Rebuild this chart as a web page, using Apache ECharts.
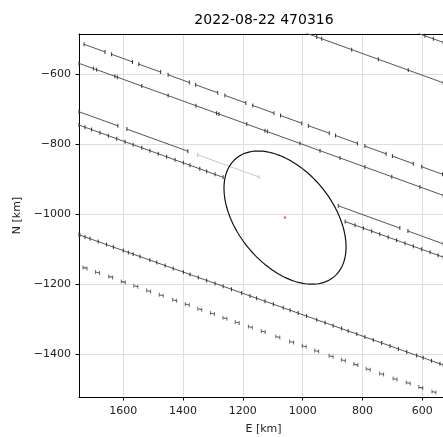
<!DOCTYPE html>
<html>
<head>
<meta charset="utf-8">
<script src="https://cdn.jsdelivr.net/npm/echarts@6/dist/echarts.min.js"></script>
<style>
  html, body { margin: 0; padding: 0; background: #fff; }
  #chart { width: 443px; height: 437px; }
</style>
</head>
<body>
<div id="chart"></div>
<script>
// chords [E, N] in km
const chordA = [[1000, -478.8], [953, -493.3], [936.5, -498.5], [836, -529.6], [747, -557.1], [647, -588.1], [530, -624.3]];
const chordA2 = [[615, -482.6], [591, -490.2], [563, -498.8], [530, -509]];
const chordB = [
  [[1731, -514.4], [1661, -536.1]],
  [[1639, -542.9], [1569, -564.6]],
  [[1548, -571.1], [1475, -593.7]],
  [[1450, -601.4], [1379, -623.4]],
  [[1358, -629.9], [1284, -652.8]],
  [[1260, -660.2], [1190, -681.9]],
  [[1167, -689], [1096, -711]],
  [[1074, -717.8], [1003, -739.8]],
  [[981, -746.6], [911, -768.2]],
  [[890, -774.7], [817, -797.3]],
  [[792, -805], [721, -827]],
  [[700, -833.5], [630, -855.2]],
  [[602, -863.8], [532, -885.5]]
];
const chordC = [[1748, -569], [1700, -583.5], [1689, -586.9], [1628, -605.7], [1620, -608.2], [1538, -633.6],
  [1450, -660.8], [1357, -689.6], [1288, -711], [1280, -713.4], [1187, -742.2], [1126, -761.1], [1118, -763.6],
  [1009, -797.3], [942, -818.1], [875, -838.8], [792, -864.5], [702, -892.3], [608, -921.4], [530, -945.6]];
const chordD = [
  [[1748, -706.9], [1618, -747.1]],
  [[1588, -756.4], [1384, -819.5]],
  [[881, -975.3], [675, -1039.0]],
  [[648, -1047.4], [530, -1083.9]]
];
const chordDGray = [[1351, -829.8], [1146, -893.2]];
const chordE1 = [[1748, -744.8], [1728, -751.0], [1706, -757.8], [1678, -766.5], [1650, -775.1], [1622, -783.8],
  [1594, -792.5], [1567, -800.8], [1538, -809.8], [1511, -818.2], [1483, -826.8], [1455, -835.5], [1427, -844.2],
  [1399, -852.8], [1377, -859.6], [1344, -869.8], [1321, -877.0], [1293, -885.6], [1266, -894.0]];
const chordE2 = [[858, -1020.1], [825, -1030.5], [797, -1039.1], [769, -1047.8], [742, -1056.2], [714, -1064.8],
  [686, -1073.5], [658, -1082.2], [630, -1090.8], [602, -1099.5], [574, -1108.2], [547, -1116.5], [530, -1121.8]];
const chordF = [[1748, -1058], [1745, -1058.9], [1728, -1064.1], [1711, -1069.3], [1684, -1077.5], [1656, -1086.1],
  [1633, -1093.1], [1600, -1103.1], [1583, -1108.3], [1567, -1113.2], [1544, -1120.2], [1511, -1130.3],
  [1488, -1137.3], [1460, -1145.8], [1433, -1154.1], [1399, -1164.4], [1377, -1171.2], [1349, -1179.7],
  [1321, -1188.2], [1293, -1196.8], [1266, -1205], [1238, -1213.6], [1204, -1223.9], [1176, -1232.5],
  [1154, -1239.2], [1126, -1247.7], [1098, -1256.3], [1065, -1266.3], [1042, -1273.3], [1015, -1281.6],
  [987, -1290.1], [953, -1300.5], [925, -1309], [898, -1317.3], [870, -1325.8], [848, -1332.5], [819, -1341.3],
  [792, -1349.6], [764, -1358.1], [736, -1366.7], [708, -1375.2], [680, -1383.7], [652, -1392.3], [619, -1402.3],
  [597, -1409.1], [569, -1417.6], [541, -1426.1], [530, -1429.5]];
const chordG = [[1728, -1152.5], [1686, -1165.7], [1642, -1178.3], [1600, -1192.5], [1558, -1204.8], [1515, -1218.3],
  [1473, -1230.5], [1428, -1244.8], [1386, -1257.1], [1344, -1270.5], [1302, -1282.8], [1260, -1296.3],
  [1219, -1308.5], [1175, -1321.1], [1132, -1334.2], [1083, -1349.7], [1037, -1364], [995, -1376.2],
  [953, -1389.7], [905, -1404.8], [864, -1416.2], [822, -1428.5], [781, -1442], [736, -1455.4], [691, -1469.7],
  [647, -1481.1], [605, -1494.2], [561, -1506.8]];
// fitted ellipse: centre E, centre N, semi-major, semi-minor, angle (deg)
const ellipse = [[1059, -1009, 237, 147, 40.4]];
const centre = [[1059, -1009]];

const xMin = 514, xMax = 1748;
const yMin = -1521, yMax = -485;

const chart = echarts.init(document.getElementById('chart'));

function chord(points, lineColor, tickColor) {
  return {
    type: 'line',
    data: points,
    symbol: 'rect',
    symbolSize: [1, 4],
    showSymbol: true,
    silent: true,
    lineStyle: { color: lineColor, width: 1 },
    itemStyle: { color: tickColor, borderWidth: 0 },
    emphasis: { disabled: true },
    z: 3
  };
}

const fmt = v => String(v).replace('-', '\u2212');

const series = [
  chord(chordA, '#555', '#333'),
  chord(chordA2, '#555', '#333'),
  ...chordB.map(s => chord(s, '#555', '#333')),
  chord(chordC, '#555', '#333'),
  ...chordD.map(s => chord(s, '#555', '#333')),
  chord(chordDGray, '#c8c8c8', '#bbb'),
  chord(chordE1, '#555', '#333'),
  chord(chordE2, '#555', '#333'),
  chord(chordF, '#555', '#333'),
  {
    type: 'scatter',
    data: chordG,
    symbol: 'path://M0,0L0,8M0,4L5,6M5,2L5,10',
    symbolSize: [4, 5],
    silent: true,
    itemStyle: { color: 'transparent', borderColor: '#333', borderWidth: 1 },
    z: 3
  },
  {
    type: 'custom',
    data: ellipse,
    silent: true,
    encode: { x: 0, y: 1 },
    renderItem: function (params, api) {
      const cx = api.value(0), cy = api.value(1);
      const a = api.value(2), b = api.value(3);
      const ang = api.value(4) * Math.PI / 180;
      const pts = [];
      for (let i = 0; i <= 160; i++) {
        const t = i / 160 * Math.PI * 2;
        const dx = a * Math.cos(t) * Math.cos(ang) - b * Math.sin(t) * Math.sin(ang);
        const dy = a * Math.cos(t) * Math.sin(ang) + b * Math.sin(t) * Math.cos(ang);
        pts.push(api.coord([cx + dx, cy + dy]));
      }
      return {
        type: 'polyline',
        shape: { points: pts },
        style: { stroke: '#111', lineWidth: 1.2, fill: null }
      };
    },
    z: 4
  },
  {
    type: 'scatter',
    data: centre,
    symbolSize: 2.5,
    silent: true,
    itemStyle: { color: '#ff3030' },
    z: 5
  }
];

const axisFont = { fontFamily: 'DejaVu Sans', fontSize: 11, color: '#222' };

const option = {
  animation: false,
  backgroundColor: '#fff',
  title: {
    text: '2022-08-22 470316',
    left: 264,
    top: 13,
    padding: 0,
    textAlign: 'center',
    textStyle: { fontFamily: 'DejaVu Sans', fontSize: 14, fontWeight: 'normal', color: '#000' }
  },
  grid: { left: 79, right: -5, top: 34, bottom: 40, outerBoundsMode: 'none', containLabel: false },
  xAxis: [{
    type: 'value',
    inverse: true,
    min: xMin,
    max: xMax,
    splitNumber: 6,
    name: 'E [km]',
    nameLocation: 'middle',
    nameGap: 27,
    nameTextStyle: axisFont,
    axisLine: { show: true, onZero: false, lineStyle: { color: '#000', width: 1 } },
    axisTick: { show: true, length: 3.5, lineStyle: { color: '#000' } },
    axisLabel: Object.assign({ margin: 9, formatter: fmt, showMinLabel: false, showMaxLabel: false }, axisFont),
    splitLine: { show: true, lineStyle: { color: '#dedede', width: 1 } }
  }, {
    type: 'value',
    position: 'top',
    inverse: true,
    min: xMin,
    max: xMax,
    axisLine: { show: true, onZero: false, lineStyle: { color: '#000', width: 1 } },
    axisTick: { show: false },
    axisLabel: { show: false },
    splitLine: { show: false }
  }],
  yAxis: {
    type: 'value',
    min: yMin,
    max: yMax,
    splitNumber: 5,
    name: 'N [km]',
    nameLocation: 'middle',
    nameGap: 50,
    nameTextStyle: axisFont,
    axisLine: { show: true, onZero: false, lineStyle: { color: '#000', width: 1 } },
    axisTick: { show: true, length: 3.5, lineStyle: { color: '#000' } },
    axisLabel: Object.assign({ margin: 8, formatter: fmt, showMinLabel: false, showMaxLabel: false }, axisFont),
    splitLine: { show: true, lineStyle: { color: '#dedede', width: 1 } }
  },
  series: series
};

chart.setOption(option);
</script>
</body>
</html>
